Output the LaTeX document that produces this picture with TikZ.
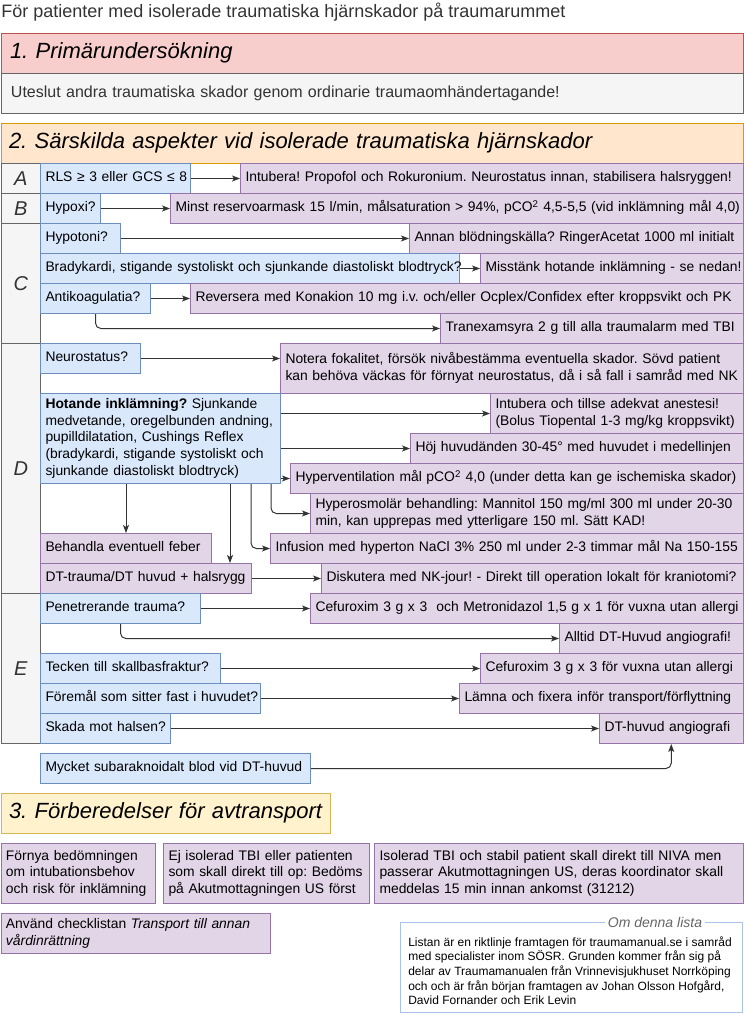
\documentclass[tikz,border=0pt]{standalone}
\usepackage{fontspec}
\setmainfont{Liberation Sans}
\usetikzlibrary{arrows.meta,calc}
\frenchspacing
\definecolor{qfill}{HTML}{DAE8FC}\definecolor{qline}{HTML}{6C8EBF}
\definecolor{afill}{HTML}{E1D5E7}\definecolor{aline}{HTML}{9673A6}
\definecolor{gfill}{HTML}{F5F5F5}\definecolor{gline}{HTML}{666666}
\definecolor{rfill}{HTML}{F8CECC}\definecolor{rline}{HTML}{B85450}
\definecolor{ofill}{HTML}{FFE6CC}\definecolor{oline}{HTML}{D79B00}
\definecolor{yfill}{HTML}{FFF2CC}\definecolor{yline}{HTML}{D6B656}
\definecolor{omline}{HTML}{A9C4EB}
\definecolor{txtg}{HTML}{333333}
\definecolor{omtxt}{HTML}{666666}
\definecolor{arr}{HTML}{333333}
\newcommand\cellfont{\fontsize{10.4pt}{12.6pt}\selectfont}
\newcommand\hdrfont{\fontsize{16.5pt}{19.8pt}\selectfont\itshape}
\newcommand\ltrfont{\fontsize{15pt}{18pt}\selectfont\itshape}
\newcommand\bodyfont{\fontsize{12pt}{14.4pt}\selectfont}
\newcommand\ttlfont{\fontsize{13.5pt}{16pt}\selectfont}
\newcommand\omfont{\fontsize{9pt}{10.9pt}\selectfont}
\newcommand\mb[1]{\mbox{\strut#1}}
% name, style, x1, y1, x2, y2, pad(px), text
\newcommand\bx[8]{%
  \pgfmathsetmacro\bxw{(#5-#3)*0.75}%
  \pgfmathsetmacro\bxh{(#6-#4)*0.75}%
  \pgfmathsetmacro\bxt{(#5-#3-2*#7)*0.75}%
  \pgfmathsetmacro\bxp{#7*0.75}%
  \node[#2, anchor=north west, inner xsep=\bxp pt, inner ysep=0pt,
        minimum width=\bxw pt, minimum height=\bxh pt, text width=\bxt pt] (#1) at (#3,#4) {#8};}
\begin{document}
\begin{tikzpicture}[x=0.75pt,y=-0.75pt,
  base/.style={draw, line width=0.75pt, align=left, font=\cellfont, text=black},
  qbox/.style={base, draw=qline, fill=qfill},
  abox/.style={base, draw=aline, fill=afill},
  lbox/.style={base, draw=gline, fill=gfill, align=center, font=\ltrfont, text=txtg},
  gbox/.style={base, draw=gline, fill=gfill, font=\bodyfont, text=txtg},
  rhead/.style={base, draw=rline, fill=rfill, font=\hdrfont},
  ohead/.style={base, draw=oline, fill=ofill, font=\hdrfont},
  yhead/.style={base, draw=yline, fill=yfill, font=\hdrfont},
  ombox/.style={draw=omline, line width=0.75pt, inner sep=0pt},
  conn/.style={draw=arr, line width=0.75pt, -{Stealth[length=6pt,width=4.5pt,inset=1.5pt]}},
  rc/.style={rounded corners=4pt}]
\useasboundingbox (0,0) rectangle (743,1014);

\node[anchor=west, font=\ttlfont, text=txtg, inner sep=0pt] (title) at (1,12)
  {För patienter med isolerade traumatiska hjärnskador på traumarummet};

\bx{h1}{rhead}{0.5}{33}{742.5}{73}{9}{\mb{1. Primärundersökning}}
\bx{b1}{gbox}{0.5}{73}{742.5}{113}{10}{\mb{Uteslut andra traumatiska skador genom ordinarie traumaomhändertagande!}}
\bx{h2}{ohead}{0.5}{123}{742.5}{163}{8}{\mb{2. Särskilda aspekter vid isolerade traumatiska hjärnskador}}

% letter column
\bx{la}{lbox}{0.5}{163}{40}{193}{0}{A}
\bx{lb}{lbox}{0.5}{193}{40}{223}{0}{B}
\bx{lc}{lbox}{0.5}{223}{40}{343}{0}{C}
\bx{ld}{lbox}{0.5}{343}{40}{593}{0}{D}
\bx{le}{lbox}{0.5}{593}{40}{743}{0}{E}

% A
\bx{qa}{qbox}{40}{163}{190}{193}{5}{\mb{RLS ≥ 3 eller GCS ≤ 8}}
\bx{aa}{abox}{240}{163}{742.5}{193}{5}{\mb{Intubera! Propofol och Rokuronium. Neurostatus innan, stabilisera halsryggen!}}
% B
\bx{qb}{qbox}{40}{193}{100}{223}{5}{\mb{Hypoxi?}}
\bx{ab}{abox}{170}{193}{742.5}{223}{5}{\mb{Minst reservoarmask 15 l/min, målsaturation > 94\%, pCO\textsuperscript{2} 4,5-5,5 (vid inklämning mål 4,0)}}
% C
\bx{qc1}{qbox}{40}{223}{120}{253}{5}{\mb{Hypotoni?}}
\bx{ac1}{abox}{409}{223}{742.5}{253}{5}{\mb{Annan blödningskälla? RingerAcetat 1000 ml initialt}}
\bx{qc2}{qbox}{40}{253}{459}{283}{5}{\mb{Bradykardi, stigande systoliskt och sjunkande diastoliskt blodtryck?}}
\bx{ac2}{abox}{480}{253}{742.5}{283}{5}{\mb{Misstänk hotande inklämning - se nedan!}}
\bx{qc3}{qbox}{40}{283}{150}{313}{5}{\mb{Antikoagulatia?}}
\bx{ac3}{abox}{190}{283}{742.5}{313}{5}{\mb{Reversera med Konakion 10 mg i.v. och/eller Ocplex/Confidex efter kroppsvikt och PK}}
\bx{ac4}{abox}{440}{313}{742.5}{343}{5}{\mb{Tranexamsyra 2 g till alla traumalarm med TBI}}
% D
\bx{qd1}{qbox}{40}{343}{140}{373}{5}{\mb{Neurostatus?}}
\bx{ad1}{abox}{280}{343}{742.5}{393}{5}{\mb{Notera fokalitet, försök nivåbestämma eventuella skador. Sövd patient}\\\mb{kan behöva väckas för förnyat neurostatus, då i så fall i samråd med NK}}
\bx{qd2}{qbox}{40}{393}{280}{483}{5}{\mb{\textbf{Hotande inklämning?} Sjunkande}\\\mb{medvetande, oregelbunden andning,}\\\mb{pupilldilatation, Cushings Reflex}\\\mb{(bradykardi, stigande systoliskt och}\\\mb{sjunkande diastoliskt blodtryck)}}
\bx{ad2}{abox}{490}{393}{742.5}{433}{5}{\mb{Intubera och tillse adekvat anestesi!}\\\mb{(Bolus Tiopental 1-3 mg/kg kroppsvikt)}}
\bx{ad3}{abox}{410}{433}{742.5}{463}{5}{\mb{Höj huvudänden 30-45° med huvudet i medellinjen}}
\bx{ad4}{abox}{290}{463}{742.5}{493}{5}{\mb{Hyperventilation mål pCO\textsuperscript{2} 4,0 (under detta kan ge ischemiska skador)}}
\bx{ad5}{abox}{310}{493}{742.5}{533}{5}{\mb{Hyperosmolär behandling: Mannitol 150 mg/ml 300 ml under 20-30}\\\mb{min, kan upprepas med ytterligare 150 ml. Sätt KAD!}}
\bx{ad6}{abox}{270}{533}{742.5}{563}{5}{\mb{Infusion med hyperton NaCl 3\% 250 ml under 2-3 timmar mål Na 150-155}}
\bx{df}{abox}{40}{533}{211}{563}{5}{\mb{Behandla eventuell feber}}
\bx{dt}{abox}{40}{563}{251}{593}{5}{\mb{DT-trauma/DT huvud + halsrygg}}
\bx{ad7}{abox}{321}{563}{742.5}{593}{5}{\mb{Diskutera med NK-jour! - Direkt till operation lokalt för kraniotomi?}}
% E
\bx{qe1}{qbox}{40}{593}{200}{623}{5}{\mb{Penetrerande trauma?}}
\bx{ae1}{abox}{310}{593}{742.5}{623}{5}{\mb{Cefuroxim 3 g x 3\ \ och Metronidazol 1,5 g x 1 för vuxna utan allergi}}
\bx{ae2}{abox}{559}{623}{742.5}{653}{5}{\mb{Alltid DT-Huvud angiografi!}}
\bx{qe2}{qbox}{40}{653}{220}{683}{5}{\mb{Tecken till skallbasfraktur?}}
\bx{ae3}{abox}{480}{653}{742.5}{683}{5}{\mb{Cefuroxim 3 g x 3 för vuxna utan allergi}}
\bx{qe3}{qbox}{40}{683}{260}{713}{5}{\mb{Föremål som sitter fast i huvudet?}}
\bx{ae4}{abox}{459}{683}{742.5}{713}{5}{\mb{Lämna och fixera inför transport/förflyttning}}
\bx{qe4}{qbox}{40}{713}{170}{743}{5}{\mb{Skada mot halsen?}}
\bx{ae5}{abox}{599}{713}{742.5}{743}{5}{\mb{DT-huvud angiografi}}
\bx{sub}{qbox}{40}{753}{310}{783}{5}{\mb{Mycket subaraknoidalt blod vid DT-huvud}}

% Section 3
\bx{h3}{yhead}{0.5}{793}{330}{833}{8}{\mb{3. Förberedelser för avtransport}}
\bx{p1}{abox}{0.5}{843}{155}{903}{5}{\mb{Förnya bedömningen}\\\mb{om intubationsbehov}\\\mb{och risk för inklämning}}
\bx{p2}{abox}{163}{843}{369}{903}{5}{\mb{Ej isolerad TBI eller patienten}\\\mb{som skall direkt till op: Bedöms}\\\mb{på Akutmottagningen US först}}
\bx{p3}{abox}{374}{843}{742.5}{903}{5}{\mb{Isolerad TBI och stabil patient skall direkt till NIVA men}\\\mb{passerar Akutmottagningen US, deras koordinator skall}\\\mb{meddelas 15 min innan ankomst (31212)}}
\bx{p4}{abox}{0.5}{913}{270}{953}{5}{\mb{Använd checklistan \textit{Transport till annan}}\\\mb{\textit{vårdinrättning}}}

% Om denna lista
\bx{omb}{ombox}{400}{922}{742}{1012}{0}{}
\node[anchor=north west, inner sep=0pt, align=left, font=\omfont, text=black] (omt) at (408,936)
  {\mb{Listan är en riktlinje framtagen för traumamanual.se i samråd}\\\mb{med specialister inom SÖSR. Grunden kommer från sig på}\\\mb{delar av Traumamanualen från Vrinnevisjukhuset Norrköping}\\\mb{och och är från början framtagen av Johan Olsson Hofgård,}\\\mb{David Fornander och Erik Levin}};
\node[fill=white, inner xsep=2pt, inner ysep=0pt, font=\fontsize{10.5pt}{12pt}\selectfont\itshape, text=omtxt] (omtitle) at (omb.north -| 655,0) {Om denna lista};

% connectors
\draw[conn] (qa.east) -- (aa.west);
\draw[conn] (qb.east) -- (ab.west);
\draw[conn] (qc1.east) -- (ac1.west);
\draw[conn] (qc2.east) -- (ac2.west);
\draw[conn] (qc3.east) -- (ac3.west);
\draw[conn,rc] (qc3.south) |- (ac4.west);
\draw[conn] (qd1.east) -- (qd1.east -| ad1.west);
\draw[conn] (qd2.east |- ad2.west) -- (ad2.west);
\draw[conn] (qd2.east |- ad3.west) -- (ad3.west);
\draw[conn] (qd2.east |- ad4.west) -- (ad4.west);
\draw[conn,rc] ($(qd2.south west)+(231,0)$) |- (ad5.west);
\draw[conn,rc] ($(qd2.south west)+(211,0)$) |- (ad6.west);
\draw[conn] (df.north |- qd2.south) -- (df.north);
\draw[conn] ($(qd2.south west)+(190,0)$) -- ($(dt.north west)+(190,0)$);
\draw[conn] (dt.east) -- (ad7.west);
\draw[conn] (qe1.east) -- (ae1.west);
\draw[conn,rc] (qe1.south) |- (ae2.west);
\draw[conn] (qe2.east) -- (ae3.west);
\draw[conn] (qe3.east) -- (ae4.west);
\draw[conn] (qe4.east) -- (ae5.west);
\draw[conn,rc] (sub.east) -| (ae5.south);
\end{tikzpicture}
\end{document}
